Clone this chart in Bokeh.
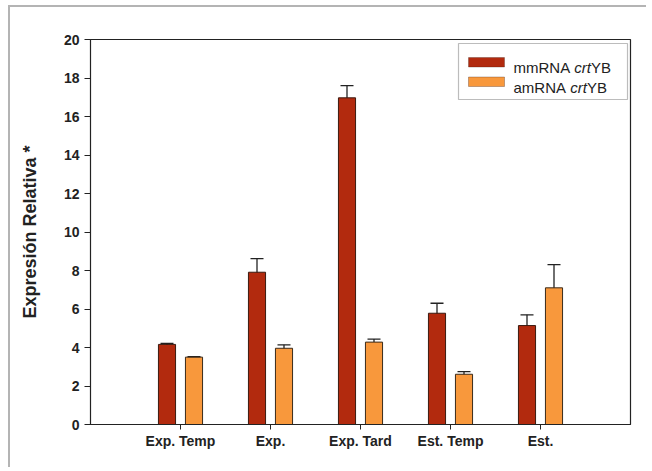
import numpy as np
from bokeh.plotting import figure
from bokeh.models import (ColumnDataSource, Whisker, TeeHead, FixedTicker,
                          BoxAnnotation, Label, Range1d)
from bokeh.embed import file_html
from bokeh.resources import INLINE

# ---- data ----
categories = ["Exp. Temp", "Exp.", "Exp. Tard", "Est. Temp", "Est."]
mm_values = [4.16, 7.91, 16.97, 5.78, 5.14]
mm_errors = [0.05, 0.71, 0.63, 0.52, 0.56]
am_values = [3.50, 3.96, 4.28, 2.61, 7.10]
am_errors = [0.03, 0.18, 0.16, 0.14, 1.21]
series_labels = [("mmRNA ", "crt", "YB"), ("amRNA ", "crt", "YB")]
y_ticks = list(range(0, 21, 2))

DARK = "#b22a0e"
LIGHT = "#f8983c"
FONT = "Liberation Sans"

FW, FH = 540, 385
X0, X1 = 0, len(categories) + 1
Y0, Y1 = 0, 20

# canvas placed at (10, 7) on the page by the CSS margin + border below
p = figure(width=636, height=460, output_backend="svg", toolbar_location=None,
           x_range=Range1d(X0, X1), y_range=Range1d(Y0, Y1),
           min_border_left=80, min_border_right=16, min_border_top=32,
           min_border_bottom=43)
p.frame_width = FW
p.frame_height = FH
p.styles = {"margin-left": "8px", "margin-top": "5px",
            "border-left": "2px solid #b4b4b4", "border-top": "2px solid #b4b4b4"}

def px_x(px):
    return X0 + px * (X1 - X0) / FW

def px_y(px):
    return Y1 - px * (Y1 - Y0) / FH

pos = np.arange(1, len(categories) + 1)
mm = np.array(mm_values); am = np.array(am_values)
mme = np.array(mm_errors); ame = np.array(am_errors)

src_mm = ColumnDataSource(dict(x=pos - 0.15, top=mm, upper=mm + mme, lower=mm - mme))
src_am = ColumnDataSource(dict(x=pos + 0.15, top=am, upper=am + ame, lower=am - ame))

p.vbar(x="x", top="top", width=0.19, source=src_mm, fill_color=DARK,
       line_color="#3a1a10", line_width=1)
p.vbar(x="x", top="top", width=0.19, source=src_am, fill_color=LIGHT,
       line_color="#3a2a1a", line_width=1)

for src in (src_mm, src_am):
    w = Whisker(base="x", upper="upper", lower="lower", source=src,
                line_color="#222222", line_width=1.3,
                upper_head=TeeHead(size=13, line_color="#222222", line_width=1.3),
                lower_head=TeeHead(size=13, line_color="#222222", line_width=1.3))
    p.add_layout(w)

# axes
p.xgrid.visible = False
p.ygrid.visible = False
p.outline_line_color = "#222222"
p.outline_line_width = 1.2

xa = p.xaxis[0]
xa.ticker = FixedTicker(ticks=list(pos))
xa.major_label_overrides = {int(k): c for k, c in zip(pos, categories)}
xa.major_label_text_font = FONT
xa.major_label_text_font_style = "bold"
xa.major_label_text_font_size = "14px"
xa.major_label_text_color = "#222222"
xa.major_tick_out = 5
xa.major_tick_in = 0
xa.minor_tick_line_color = None
xa.axis_line_color = "#222222"
xa.major_tick_line_color = "#222222"
xa.major_label_standoff = 3

ya = p.yaxis[0]
ya.ticker = FixedTicker(ticks=y_ticks)
ya.major_label_text_font = FONT
ya.major_label_text_font_style = "bold"
ya.major_label_text_font_size = "14px"
ya.major_label_text_color = "#222222"
ya.major_tick_out = 6
ya.major_tick_in = 0
ya.minor_tick_line_color = None
ya.axis_line_color = "#222222"
ya.major_tick_line_color = "#222222"
ya.major_label_standoff = 5
ya.axis_label = "Expresión Relativa *"
ya.axis_label_text_font = FONT
ya.axis_label_text_font_style = "bold"
ya.axis_label_text_font_size = "18px"
ya.axis_label_text_color = "#222222"
ya.axis_label_standoff = 21

# legend (manual, to allow italic "crt")
p.add_layout(BoxAnnotation(left=px_x(368), right=px_x(537), top=px_y(4), bottom=px_y(60),
                           fill_color="white", fill_alpha=1, line_color="#222222",
                           line_width=1.2))
swatch_colors = [DARK, LIGHT]
for i, (lab, col) in enumerate(zip(series_labels, swatch_colors)):
    ty = 18 + i * 19.5
    p.add_layout(BoxAnnotation(left=px_x(378), right=px_x(414), top=px_y(ty), bottom=px_y(ty + 9.5),
                               fill_color=col, fill_alpha=1, line_color="#3a1a10",
                               line_width=1))
    base_y = px_y(ty + 10)
    w_first = {"mmRNA ": 60.8, "amRNA ": 56.7}[lab[0]]
    xs = [423, 423 + w_first, 423 + w_first + 16.7]
    styles = ["normal", "italic", "normal"]
    for txt, xx, st in zip(lab, xs, styles):
        p.add_layout(Label(x=px_x(xx), y=base_y, text=txt, text_font=FONT,
                           text_font_size="15px", text_font_style=st,
                           text_color="#222222", text_baseline="alphabetic",
                           text_align="left"))

open("out.html", "w").write(file_html(p, INLINE))
